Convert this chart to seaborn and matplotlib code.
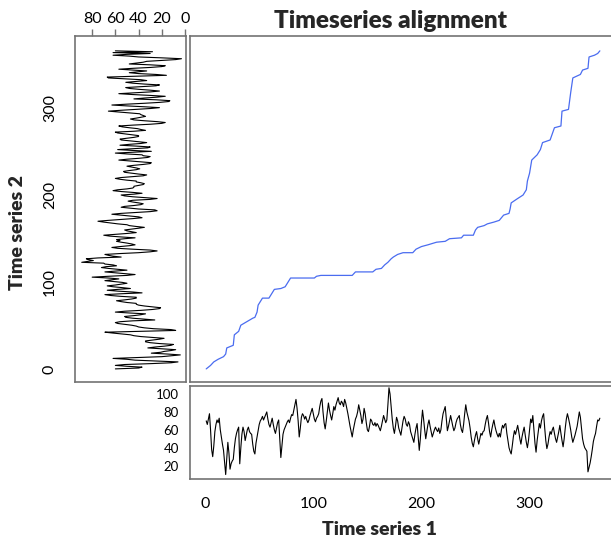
import matplotlib
matplotlib.use("Agg")
import matplotlib.pyplot as plt
import seaborn as sns
import numpy as np

# time series 1 (query, bottom panel), days 1..365
ts1 = [70, 66, 72, 78, 60, 38, 30, 42, 58, 66,
       71, 68, 73, 60, 52, 44, 37, 24, 10, 28,
       46, 34, 16, 22, 25, 27, 40, 50, 56, 60,
       63, 22, 40, 55, 63, 58, 48, 54, 60, 63,
       58, 56, 55, 44, 36, 33, 45, 52, 59, 66,
       70, 72, 75, 71, 74, 77, 80, 72, 66, 63,
       68, 73, 66, 60, 56, 62, 68, 71, 50, 29,
       42, 55, 60, 63, 66, 69, 71, 68, 73, 77,
       76, 82, 88, 94, 84, 70, 52, 62, 74, 78,
       76, 72, 75, 71, 68, 71, 76, 80, 84, 78,
       72, 69, 73, 75, 78, 86, 92, 95, 80, 68,
       61, 70, 80, 90, 82, 76, 71, 78, 86, 82,
       88, 92, 96, 90, 88, 92, 90, 86, 94, 90,
       84, 78, 71, 64, 58, 52, 60, 66, 72, 75,
       80, 88, 82, 76, 67, 72, 84, 78, 68, 60,
       58, 64, 72, 70, 66, 65, 68, 64, 67, 65,
       62, 59, 64, 70, 76, 72, 68, 71, 88, 107,
       100, 86, 72, 62, 56, 64, 74, 70, 62, 58,
       54, 62, 70, 75, 72, 66, 64, 69, 66, 58,
       54, 50, 46, 55, 62, 67, 52, 37, 50, 68,
       82, 72, 60, 50, 58, 66, 71, 64, 58, 52,
       56, 60, 63, 60, 58, 62, 56, 60, 70, 78,
       82, 86, 72, 59, 64, 70, 76, 70, 64, 59,
       62, 68, 72, 74, 76, 66, 60, 57, 66, 78,
       88, 80, 75, 70, 62, 52, 45, 41, 48, 54,
       58, 50, 44, 50, 56, 54, 58, 59, 66, 72,
       76, 68, 58, 52, 60, 66, 71, 64, 59, 55,
       52, 56, 52, 60, 65, 62, 66, 67, 56, 48,
       40, 36, 33, 42, 52, 59, 55, 60, 65, 58,
       50, 44, 52, 58, 63, 54, 46, 40, 48, 60,
       72, 68, 76, 60, 45, 35, 48, 58, 67, 62,
       70, 75, 78, 62, 48, 39, 44, 52, 58, 55,
       60, 63, 56, 50, 46, 52, 58, 65, 56, 48,
       41, 50, 62, 72, 78, 73, 67, 60, 52, 46,
       50, 54, 59, 64, 72, 80, 74, 62, 50, 44,
       40, 38, 36, 13, 18, 23, 30, 38, 47, 52,
       56, 64, 71, 70, 73]

# time series 2 (reference, left panel), days 1..365
ts2 = [60, 40, 37, 50, 60, 52, 30, 12, 6, 25,
       43, 50, 62, 40, 20, 12, 4, 15, 29, 21,
       18, 12, 8, 20, 32, 26, 18, 12, 10, 22,
       30, 34, 34, 28, 22, 18, 28, 38, 44, 47,
       55, 62, 69, 40, 8, 12, 27, 35, 40, 42,
       46, 52, 58, 60, 56, 45, 26, 35, 45, 51,
       52, 44, 38, 34, 48, 60, 52, 38, 28, 22,
       21, 28, 35, 40, 42, 42, 50, 55, 59, 52,
       46, 42, 42, 55, 64, 69, 55, 37, 45, 58,
       67, 58, 47, 54, 62, 67, 60, 55, 50, 54,
       62, 69, 63, 57, 66, 80, 66, 50, 43, 52,
       62, 69, 60, 50, 58, 66, 72, 68, 59, 62,
       69, 70, 89, 84, 79, 83, 85, 75, 55, 62,
       66, 69, 56, 40, 30, 24, 30, 45, 58, 63,
       56, 48, 43, 46, 50, 55, 59, 56, 59, 52,
       43, 55, 65, 70, 60, 50, 42, 46, 50, 52,
       46, 40, 35, 42, 48, 50, 58, 64, 70, 75,
       66, 55, 45, 37, 40, 48, 56, 63, 55, 42,
       30, 24, 26, 40, 48, 55, 52, 44, 38, 36,
       40, 45, 49, 45, 30, 24, 35, 45, 52, 55,
       44, 37, 45, 55, 62, 58, 50, 45, 44, 44,
       40, 36, 35, 38, 42, 42, 50, 56, 60, 55,
       45, 36, 33, 40, 46, 52, 53, 48, 42, 39,
       42, 46, 50, 44, 36, 30, 29, 38, 48, 57,
       50, 40, 32, 30, 36, 37, 50, 60, 44, 29,
       45, 58, 45, 32, 30, 42, 56, 48, 38, 33,
       40, 48, 55, 56, 50, 44, 40, 40, 46, 52,
       58, 60, 44, 34, 38, 41, 48, 54, 57, 45,
       30, 20, 17, 24, 35, 44, 47, 42, 38, 34,
       36, 38, 39, 48, 58, 66, 55, 42, 30, 22,
       35, 50, 63, 50, 35, 22, 14, 13, 25, 44,
       35, 24, 17, 30, 45, 57, 44, 30, 22, 30,
       40, 48, 51, 38, 25, 22, 35, 45, 51, 42,
       33, 38, 52, 66, 67, 40, 16, 25, 40, 48,
       40, 33, 45, 57, 45, 30, 20, 17, 30, 48,
       42, 36, 33, 20, 8, 3, 20, 40, 48, 62,
       50, 30, 62, 28, 60]

# warping path corners (index in series 1, index in series 2)
path_x = [1, 5, 8, 12, 17, 19, 20, 26, 27, 31, 33, 44, 46, 48, 49, 53, 59, 62,
          64, 70, 74, 76, 79, 101, 103, 107, 136, 139, 155, 158, 163, 166, 169,
          172, 174, 178, 183, 192, 195, 200, 206, 214, 222, 226, 237, 239, 248,
          250, 252, 258, 261, 267, 272, 276, 281, 282, 283, 289, 294, 297, 298,
          300, 302, 307, 310, 312, 319, 323, 329, 330, 336, 338, 340, 347, 349,
          354, 355, 360, 363, 365]
path_y = [1, 5, 9, 12, 15, 18, 25, 28, 40, 44, 51, 59, 60, 66, 74, 82, 82, 88,
          92, 93, 95, 99, 105, 105, 107, 108, 108, 112, 112, 115, 116, 120, 123,
          127, 129, 132, 134, 134, 138, 141, 143, 146, 147, 150, 151, 154, 154,
          160, 163, 165, 167, 169, 171, 177, 179, 184, 191, 196, 200, 206, 216,
          225, 240, 246, 252, 260, 263, 277, 279, 296, 298, 317, 334, 338, 343,
          345, 358, 360, 362, 365]

days = np.arange(1, len(ts1) + 1)
days2 = np.arange(1, len(ts2) + 1)

sns.set_style("white")
plt.rcParams["font.family"] = ["Lato", "DejaVu Sans"]

W, H = 611, 537
fig = plt.figure(figsize=(W / 100, H / 100), dpi=100)


def box(x0, y0, x1, y1):
    # pixel box (top-left origin) -> figure fraction
    return [x0 / W, 1 - y1 / H, (x1 - x0) / W, (y1 - y0) / H]


ax_main = fig.add_axes(box(190, 36, 615, 382))
ax_left = fig.add_axes(box(75, 36, 186, 382))
ax_bot = fig.add_axes(box(190, 386, 615, 479))

frame = "#737373"
for ax in (ax_main, ax_left, ax_bot):
    for s in ax.spines.values():
        s.set_color(frame)
        s.set_linewidth(1.2)
    ax.tick_params(colors=frame, labelcolor="black", length=5, width=1)

xlim = (-14, 379)
ylim = (-14, 382)

# main: alignment path
sns.lineplot(x=path_x, y=path_y, sort=False, estimator=None, ax=ax_main,
             color="#4a6cf0", linewidth=0.9)
ax_main.set_xlim(*xlim)
ax_main.set_ylim(*ylim)
ax_main.set_xticks([])
ax_main.set_yticks([])
ax_main.set_xlabel("")
ax_main.set_ylabel("")

# left: series 2 drawn vertically
sns.lineplot(x=ts2, y=days2, orient="y", sort=False, estimator=None, ax=ax_left,
             color="black", linewidth=0.8)
ax_left.set_xlim(94.8, -0.9)
ax_left.set_ylim(*ylim)
ax_left.xaxis.tick_top()
ax_left.set_xticks([80, 60, 40, 20, 0])
ax_left.set_yticks([0, 100, 200, 300])
ax_left.tick_params(axis="x", labelsize=11.5, pad=2)
ax_left.tick_params(axis="y", labelsize=11.5, pad=8)
for t in ax_left.get_yticklabels():
    t.set_rotation(90)
    t.set_va("center")
ax_left.set_xlabel("")
ax_left.set_ylabel("")

# bottom: series 1
sns.lineplot(x=days, y=ts1, sort=False, estimator=None, ax=ax_bot,
             color="black", linewidth=0.8)
ax_bot.set_xlim(*xlim)
ax_bot.set_ylim(5, 109)
ax_bot.set_yticks([20, 40, 60, 80, 100])
ax_bot.set_xticks([0, 100, 200, 300])
ax_bot.tick_params(axis="y", labelsize=9.5, length=5, pad=3)
ax_bot.tick_params(axis="x", labelsize=11.5, pad=8)
ax_bot.set_xlabel("")
ax_bot.set_ylabel("")

fig.text(390 / W, 1 - 28 / H, "Timeseries alignment", ha="center", va="baseline",
         fontsize=17.5, fontweight="heavy")
fig.text(380 / W, 1 - 535 / H, "Time series 1", ha="center", va="baseline",
         fontsize=14, fontweight="heavy")
fig.text(18 / W, 1 - 233 / H, "Time series 2", ha="center", va="center",
         rotation=90, fontsize=14, fontweight="heavy")

fig.savefig("out.png", dpi=100)
